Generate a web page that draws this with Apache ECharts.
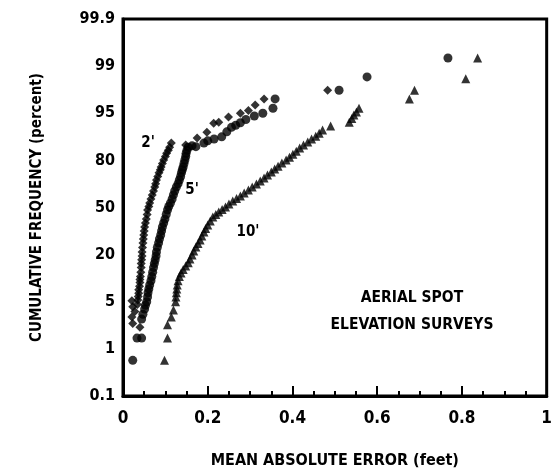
<!DOCTYPE html>
<html>
<head>
<meta charset="utf-8">
<script src="https://cdn.jsdelivr.net/npm/echarts@6/dist/echarts.min.js"></script>
<style>
html,body{margin:0;padding:0;background:#fff;}
#chart{width:555px;height:474px;}
</style>
</head>
<body>
<div id="chart"></div>
<script>
// ---------- data ----------
const yTickValues = [0.1, 1, 5, 20, 50, 80, 95, 99, 99.9];
const yTickLabels = ['0.1', '1', '5', '20', '50', '80', '95', '99', '99.9'];
const xTickLabels = ['0', '0.2', '0.4', '0.6', '0.8', '1'];

// [mean absolute error (feet), cumulative frequency (percent)]
const series2ft = [
  [0.021, 5.2], [0.023, 4.3], [0.028, 3.7], [0.021, 3.1], [0.023, 2.5], [0.040, 2.2],
  [0.034, 4.6], [0.035, 5.3], [0.036, 6.0], [0.037, 6.7], [0.037, 7.5], [0.039, 8.4],
  [0.040, 9.4], [0.040, 10.3], [0.041, 11.2], [0.042, 12.7], [0.043, 14.4], [0.043, 16.0],
  [0.044, 17.6], [0.045, 19.4], [0.045, 21.4], [0.046, 23.8], [0.047, 26.3], [0.048, 28.7],
  [0.049, 31.2], [0.050, 33.8], [0.051, 36.4], [0.053, 39.1], [0.055, 41.8], [0.057, 45.0],
  [0.058, 48.2], [0.061, 50.7], [0.063, 53.2], [0.066, 56.0], [0.069, 58.9], [0.072, 61.6],
  [0.075, 64.3], [0.077, 66.5], [0.079, 68.8], [0.082, 71.0], [0.085, 73.3], [0.088, 75.0],
  [0.090, 76.5], [0.093, 78.4], [0.096, 80.2], [0.100, 81.8], [0.103, 83.2], [0.107, 84.5],
  [0.110, 85.7], [0.114, 87.2],
  [0.148, 86.5], [0.175, 88.9], [0.198, 90.7], [0.214, 93.0], [0.226, 93.2], [0.249, 94.3],
  [0.277, 95.0], [0.296, 95.4], [0.312, 96.1], [0.333, 96.8], [0.483, 97.6]
];
const series5ft = [
  [0.023, 0.6], [0.033, 1.5], [0.044, 1.5], [0.044, 2.9], [0.047, 3.4], [0.051, 4.0],
  [0.053, 4.5], [0.056, 5.0], [0.058, 5.9], [0.059, 6.8], [0.061, 7.7], [0.063, 8.7],
  [0.066, 9.9], [0.068, 11.2], [0.070, 12.7], [0.072, 14.4], [0.074, 16.0], [0.076, 17.6],
  [0.078, 19.4], [0.079, 21.4], [0.081, 23.8], [0.084, 26.3], [0.086, 28.7], [0.089, 31.2],
  [0.091, 33.8], [0.093, 36.4], [0.096, 39.1], [0.099, 41.8], [0.102, 45.0], [0.105, 48.2],
  [0.108, 50.7], [0.112, 53.2], [0.116, 56.0], [0.119, 58.9], [0.122, 61.6], [0.126, 64.3],
  [0.130, 66.5], [0.133, 68.8], [0.136, 71.0], [0.138, 73.3], [0.140, 75.0], [0.142, 76.5],
  [0.144, 78.4], [0.146, 80.2], [0.148, 81.8], [0.149, 83.2], [0.151, 84.5], [0.154, 85.7],
  [0.163, 86.2], [0.172, 85.9], [0.191, 87.2], [0.200, 88.0], [0.215, 88.6], [0.233, 89.3],
  [0.245, 90.8], [0.256, 92.0], [0.266, 92.5], [0.277, 93.1], [0.290, 93.8], [0.310, 94.5],
  [0.330, 95.0], [0.354, 95.7], [0.359, 96.8], [0.510, 97.6], [0.576, 98.5], [0.767, 99.3]
];
const series10ft = [
  [0.098, 0.6], [0.105, 1.5], [0.105, 2.4], [0.114, 3.1], [0.119, 3.9], [0.124, 5.0],
  [0.125, 5.9], [0.126, 6.8], [0.127, 7.7], [0.128, 8.7], [0.130, 9.9], [0.133, 11.2],
  [0.137, 12.4], [0.142, 13.7], [0.148, 15.0], [0.154, 16.4], [0.158, 18.0], [0.163, 19.8],
  [0.167, 21.8], [0.172, 24.0], [0.177, 26.0], [0.182, 28.1], [0.186, 30.5], [0.191, 33.1],
  [0.195, 35.4], [0.200, 37.7], [0.206, 40.4], [0.212, 43.2], [0.219, 45.0], [0.226, 46.8],
  [0.234, 48.6], [0.242, 50.4], [0.250, 52.5], [0.259, 54.6], [0.268, 56.3], [0.277, 58.1],
  [0.286, 60.2], [0.296, 62.3], [0.305, 64.3], [0.315, 66.3], [0.324, 68.2], [0.333, 70.1],
  [0.341, 71.9], [0.350, 73.7], [0.358, 75.4], [0.366, 77.0], [0.375, 78.6], [0.385, 80.2],
  [0.393, 81.5], [0.401, 82.8], [0.409, 84.1], [0.417, 85.4], [0.426, 86.5], [0.436, 87.6],
  [0.445, 88.6], [0.455, 89.5], [0.463, 90.4], [0.471, 91.3], [0.490, 92.3], [0.534, 93.2],
  [0.540, 94.0], [0.545, 94.7], [0.551, 95.2], [0.557, 95.7],
  [0.676, 96.8], [0.688, 97.6], [0.809, 98.4], [0.837, 99.3]
];

// ---------- probability scale ----------
function probit(p) {
  const a = [-3.969683028665376e+01, 2.209460984245205e+02, -2.759285104469687e+02, 1.383577518672690e+02, -3.066479806614716e+01, 2.506628277459239e+00];
  const b = [-5.447609879822406e+01, 1.615858368580409e+02, -1.556989798598866e+02, 6.680131188771972e+01, -1.328068155288572e+01];
  const c = [-7.784894002430293e-03, -3.223964580411365e-01, -2.400758277161838e+00, -2.549732539343734e+00, 4.374664141464968e+00, 2.938163982698783e+00];
  const d = [7.784695709041462e-03, 3.224671290700398e-01, 2.445134137142996e+00, 3.754408661907416e+00];
  const pl = 0.02425, ph = 1 - pl;
  let q, r;
  if (p < pl) {
    q = Math.sqrt(-2 * Math.log(p));
    return (((((c[0]*q+c[1])*q+c[2])*q+c[3])*q+c[4])*q+c[5]) / ((((d[0]*q+d[1])*q+d[2])*q+d[3])*q+1);
  }
  if (p <= ph) {
    q = p - 0.5; r = q*q;
    return (((((a[0]*r+a[1])*r+a[2])*r+a[3])*r+a[4])*r+a[5])*q / (((((b[0]*r+b[1])*r+b[2])*r+b[3])*r+b[4])*r+1);
  }
  q = Math.sqrt(-2 * Math.log(1 - p));
  return -(((((c[0]*q+c[1])*q+c[2])*q+c[3])*q+c[4])*q+c[5]) / ((((d[0]*q+d[1])*q+d[2])*q+d[3])*q+1);
}
const tickZ = yTickValues.map(v => probit(v / 100));
function toAxis(pct) {
  const z = probit(pct / 100);
  for (let i = 0; i < tickZ.length - 1; i++) {
    if (z <= tickZ[i + 1] || i === tickZ.length - 2) {
      return i + (z - tickZ[i]) / (tickZ[i + 1] - tickZ[i]);
    }
  }
}
const conv = arr => arr.map(d => [d[0], toAxis(d[1])]);

// ---------- chart ----------
const FONT = '"DejaVu Sans Condensed", "DejaVu Sans", sans-serif';
const txt = (x, y, text, size) => ({
  type: 'text', x: x, y: y,
  style: {text: text, font: 'bold ' + size + 'px ' + FONT, fill: '#000', textAlign: 'center', textVerticalAlign: 'middle'}
});
const chart = echarts.init(document.getElementById('chart'), null, {renderer: 'canvas'});
const option = {
  backgroundColor: '#ffffff',
  animation: false,
  grid: {
    left: 123, right: 3, top: 19, bottom: 78,
    show: true, borderColor: '#000', borderWidth: 3, backgroundColor: 'transparent'
  },
  xAxis: {
    type: 'value', min: 0, max: 1, interval: 0.2,
    name: 'MEAN ABSOLUTE ERROR (feet)',
    nameLocation: 'middle', nameGap: 57,
    nameTextStyle: {fontFamily: FONT, fontWeight: 'bold', fontSize: 16, color: '#000'},
    axisLine: {show: true, lineStyle: {color: '#000', width: 3}},
    axisTick: {show: true, inside: true, length: 10, lineStyle: {color: '#000', width: 2}},
    minorTick: {show: true, splitNumber: 4, length: 5, lineStyle: {color: '#000', width: 2}},
    splitLine: {show: false},
    axisLabel: {
      margin: 14, color: '#000', fontFamily: FONT, fontWeight: 'bold', fontSize: 17,
      formatter: v => xTickLabels[Math.round(v * 5)]
    }
  },
  yAxis: {
    type: 'value', min: 0, max: 8, interval: 1,
    name: 'CUMULATIVE FREQUENCY (percent)',
    nameLocation: 'middle', nameGap: 78, nameRotate: 90,
    nameTextStyle: {fontFamily: FONT, fontWeight: 'bold', fontSize: 15, color: '#000'},
    axisLine: {show: true, lineStyle: {color: '#000', width: 3}},
    axisTick: {show: false},
    splitLine: {show: false},
    axisLabel: {
      margin: 8, color: '#000', fontFamily: FONT, fontWeight: 'bold', fontSize: 16,
      formatter: v => yTickLabels[Math.round(v)]
    }
  },
  graphic: [
    txt(148, 143, "2'", 15),
    txt(192, 190, "5'", 15),
    txt(248, 232, "10'", 15),
    txt(412, 298, 'AERIAL SPOT', 15.5),
    txt(412, 325, 'ELEVATION SURVEYS', 15.5)
  ],
  series: [
    {name: "2'", type: 'scatter', symbol: 'diamond', symbolSize: 9, itemStyle: {color: '#000'}, data: conv(series2ft)},
    {name: "5'", type: 'scatter', symbol: 'circle', symbolSize: 9, itemStyle: {color: '#000'}, data: conv(series5ft)},
    {name: "10'", type: 'scatter', symbol: 'triangle', symbolSize: 9, itemStyle: {color: '#000'}, data: conv(series10ft)}
  ]
};
chart.setOption(option);
</script>
</body>
</html>
